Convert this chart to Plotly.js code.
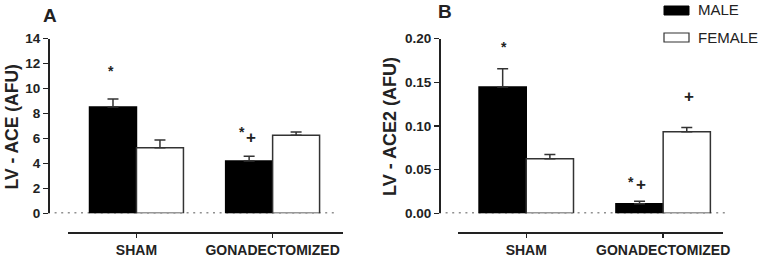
<!DOCTYPE html>
<html>
<head>
<meta charset="utf-8">
<script src="https://cdn.plot.ly/plotly-3.0.1.min.js"></script>
<style>html,body{margin:0;padding:0;background:#fff}#chart{width:762px;height:257px}</style>
</head>
<body>
<div id="chart"></div>
<script>
// ---- data ----
var groups = ['SHAM', 'GONADECTOMIZED'];
var aceMale = [8.52, 4.19];
var aceMaleSem = [0.64, 0.38];
var aceFemale = [5.26, 6.25];
var aceFemaleSem = [0.62, 0.27];
var ace2Male = [0.1447, 0.0110];
var ace2MaleSem = [0.0210, 0.0027];
var ace2Female = [0.0624, 0.0933];
var ace2FemaleSem = [0.0050, 0.0050];
var seriesNames = ['MALE', 'FEMALE'];
var yTitles = ['LV - ACE (AFU)', 'LV - ACE2 (AFU)'];
var panelLabels = ['A', 'B'];

// ---- helpers ----
var W = 762, H = 257;
function px(x) { return x / W; }
function py(y) { return (H - y) / H; }
var dark = '#222';
var FONT = 'Arial, "Liberation Sans", sans-serif';

function zeros(n) { var a = []; for (var i = 0; i < n; i++) a.push(0); return a; }

function barTrace(y, sem, name, fill, xa, ya) {
  return {
    type: 'bar', x: groups, y: y, name: name, xaxis: xa, yaxis: ya,
    showlegend: false,
    marker: { color: fill, line: { color: fill === '#000000' ? '#000000' : '#333', width: 1.5 } },
    error_y: { type: 'data', array: sem, arrayminus: zeros(sem.length), color: '#333', thickness: 1.5, width: 5.5 }
  };
}

var data = [
  barTrace(aceMale, aceMaleSem, seriesNames[0], '#000000', 'x', 'y'),
  barTrace(aceFemale, aceFemaleSem, seriesNames[1], '#ffffff', 'x', 'y'),
  barTrace(ace2Male, ace2MaleSem, seriesNames[0], '#000000', 'x2', 'y2'),
  barTrace(ace2Female, ace2FemaleSem, seriesNames[1], '#ffffff', 'x2', 'y2')
];

var yDomain = [py(213.3), py(38.7)];
var xAxisPos = py(232.3);

function xAxis(domain, range) {
  return {
    type: 'category', domain: domain, range: range, anchor: 'free', position: xAxisPos,
    showline: true, linecolor: dark, linewidth: 1.5, ticks: 'outside', ticklen: 4, tickwidth: 1.5,
    tickcolor: dark, showgrid: false, zeroline: false, fixedrange: true,
    tickfont: { family: FONT, size: 14, color: dark, weight: 'bold' }
  };
}
function yAxis(pos, range, dtick, fmt) {
  return {
    domain: yDomain, range: range, dtick: dtick, tick0: 0, tickformat: fmt, anchor: 'free', position: pos,
    showline: true, linecolor: dark, linewidth: 1.5, ticks: 'outside', ticklen: 5, tickwidth: 1.5,
    tickcolor: dark, showgrid: false, zeroline: false, fixedrange: true,
    tickfont: { family: FONT, size: 13.5, color: dark, weight: 'bold' }
  };
}

function ann(o) {
  o.showarrow = false;
  if (!o.xanchor) o.xanchor = 'center';
  o.yanchor = 'middle';
  return o;
}

var layout = {
  width: W, height: H,
  margin: { l: 0, r: 0, t: 0, b: 0 },
  paper_bgcolor: '#ffffff', plot_bgcolor: 'rgba(0,0,0,0)',
  barmode: 'group', bargap: 0.31, bargroupgap: 0,
  xaxis: xAxis([px(68), px(343)], [-0.503, 1.517]),
  yaxis: yAxis(px(48), [0, 14], 2, 'd'),
  xaxis2: xAxis([px(457.7), px(722.7)], [-0.501, 1.435]),
  yaxis2: yAxis(px(439), [0, 0.2], 0.05, '.2f'),
  shapes: [
    { type: 'line', layer: 'below', xref: 'paper', yref: 'y', x0: px(48), x1: px(338), y0: 0, y1: 0,
      line: { color: '#222', width: 1.8, dash: '2px,4.6px' } },
    { type: 'line', layer: 'below', xref: 'paper', yref: 'y2', x0: px(439), x1: px(728), y0: 0, y1: 0,
      line: { color: '#222', width: 1.8, dash: '2px,4.6px' } },
    // legend swatches
    { type: 'rect', xref: 'paper', yref: 'paper', x0: px(664), x1: px(689), y0: py(15), y1: py(6),
      fillcolor: '#000', line: { color: '#000', width: 1 } },
    { type: 'rect', xref: 'paper', yref: 'paper', x0: px(664), x1: px(689), y0: py(42), y1: py(33),
      fillcolor: '#fff', line: { color: '#333', width: 1.2 } }
  ],
  annotations: [
    ann({ xref: 'paper', yref: 'paper', x: px(50), y: py(15), text: panelLabels[0],
      font: { family: FONT, size: 19, color: dark, weight: 'bold' } }),
    ann({ xref: 'paper', yref: 'paper', x: px(445), y: py(12), text: panelLabels[1],
      font: { family: FONT, size: 19, color: dark, weight: 'bold' } }),
    ann({ xref: 'paper', yref: 'paper', x: px(11.5), y: py(127), text: yTitles[0], textangle: -90,
      font: { family: FONT, size: 17.5, color: dark, weight: 'bold' } }),
    ann({ xref: 'paper', yref: 'paper', x: px(390), y: py(127), text: yTitles[1], textangle: -90,
      font: { family: FONT, size: 18, color: dark, weight: 'bold' } }),
    ann({ xref: 'paper', yref: 'paper', x: px(696), y: py(10), xanchor: 'left', text: seriesNames[0],
      font: { family: FONT, size: 15, color: dark } }),
    ann({ xref: 'paper', yref: 'paper', x: px(696), y: py(37), xanchor: 'left', text: seriesNames[1],
      font: { family: FONT, size: 15, color: dark } }),
    // significance marks
    ann({ xref: 'x', yref: 'y', x: 0, xshift: -25, y: 11.4, text: '*',
      font: { family: FONT, size: 14, color: dark, weight: 'bold' } }),
    ann({ xref: 'x', yref: 'y', x: 1, xshift: -31, y: 6.5, text: '*',
      font: { family: FONT, size: 14, color: dark, weight: 'bold' } }),
    ann({ xref: 'x', yref: 'y', x: 1, xshift: -22, y: 6.05, text: '+',
      font: { family: FONT, size: 17, color: dark, weight: 'bold' } }),
    ann({ xref: 'x2', yref: 'y2', x: 0, xshift: -22, y: 0.190, text: '*',
      font: { family: FONT, size: 14, color: dark, weight: 'bold' } }),
    ann({ xref: 'x2', yref: 'y2', x: 1, xshift: 26, y: 0.1333, text: '+',
      font: { family: FONT, size: 17, color: dark, weight: 'bold' } }),
    ann({ xref: 'x2', yref: 'y2', x: 1, xshift: -32, y: 0.036, text: '*',
      font: { family: FONT, size: 14, color: dark, weight: 'bold' } }),
    ann({ xref: 'x2', yref: 'y2', x: 1, xshift: -22, y: 0.0325, text: '+',
      font: { family: FONT, size: 17, color: dark, weight: 'bold' } })
  ]
};

Plotly.newPlot('chart', data, layout, { staticPlot: true, displayModeBar: false });
</script>
</body>
</html>
